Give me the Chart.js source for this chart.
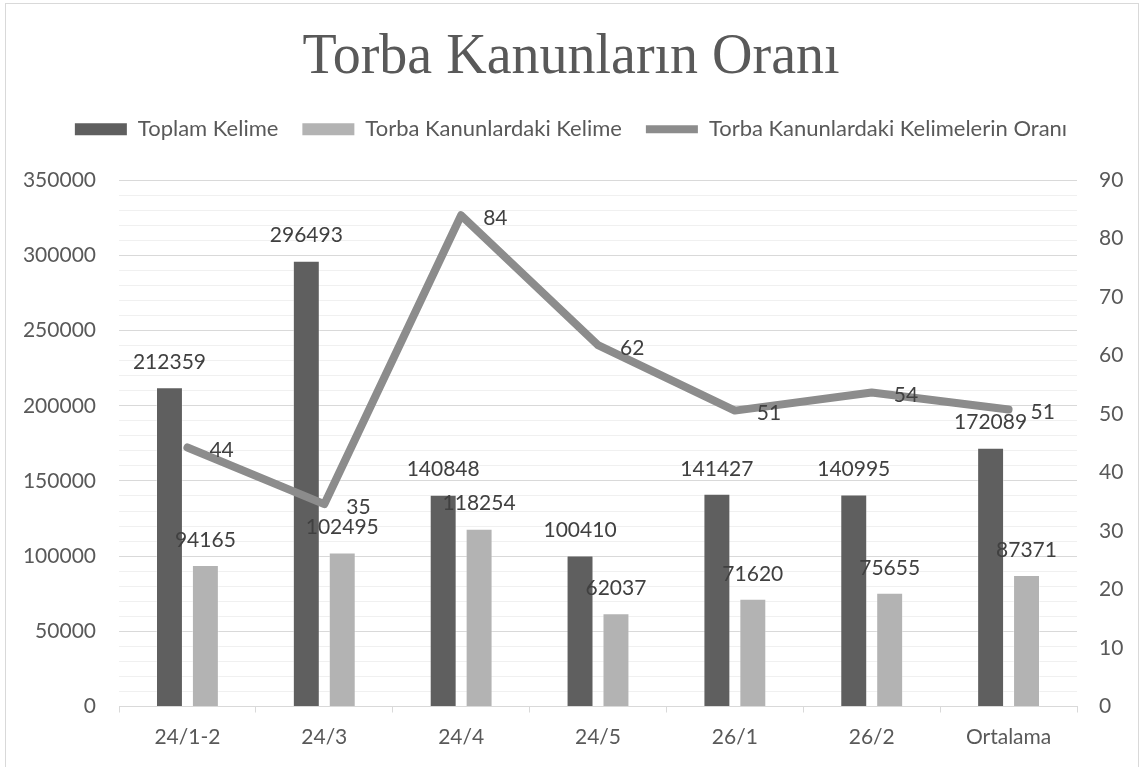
<!DOCTYPE html>
<html lang="tr">
<head>
<meta charset="UTF-8">
<title>Torba Kanunların Oranı</title>
<script src="https://cdn.jsdelivr.net/npm/chart.js"></script>
<style>
  html, body { margin: 0; padding: 0; background: #fff; }
  #wrap { position: relative; width: 1142px; height: 767px; overflow: hidden; }
  #frame { position: absolute; left: 5px; top: 3px; width: 1132px; height: 780px; border: 1px solid #d9d9d9; pointer-events: none; }
</style>
</head>
<body>
<div id="wrap">
  <canvas id="chart"></canvas>
  <div id="frame"></div>
</div>

<script>
// Data
const categories = ['24/1-2', '24/3', '24/4', '24/5', '26/1', '26/2', 'Ortalama'];
const totalWords = [212359, 296493, 140848, 100410, 141427, 140995, 172089];
const omnibusWords = [94165, 102495, 118254, 62037, 71620, 75655, 87371];
const omnibusRatio = [44.3, 34.6, 84.0, 61.8, 50.6, 53.7, 50.8];

Chart.defaults.font.family = 'Lato';
Chart.defaults.font.size = 21;
Chart.defaults.color = '#595959';

// value labels above bars / right of line points
const valueLabels = {
  id: 'valueLabels',
  afterDatasetsDraw(chart) {
    const ctx = chart.ctx;
    ctx.save();
    ctx.font = '21px Lato';
    ctx.fillStyle = '#404040';
    ctx.textBaseline = 'middle';
    chart.data.datasets.forEach((ds, i) => {
      const meta = chart.getDatasetMeta(i);
      meta.data.forEach((el, j) => {
        const v = ds.data[j];
        if (ds.type === 'line') {
          ctx.textAlign = 'left';
          ctx.fillText(Math.round(v), el.x + 22, el.y + 3);
        } else {
          ctx.textAlign = 'center';
          ctx.fillText(v, el.x, el.y - 25);
        }
      });
    });
    ctx.restore();
  }
};

// extra room under the legend
const legendGap = {
  id: 'legendGap',
  beforeInit(chart) {
    const fit = chart.legend.fit;
    chart.legend.fit = function () {
      fit.bind(chart.legend)();
      this.height += 30;
    };
  }
};

const ctx = document.getElementById('chart').getContext('2d');
new Chart(ctx, {
  type: 'bar',
  data: {
    labels: categories,
    datasets: [
      {
        label: 'Toplam Kelime',
        data: totalWords,
        backgroundColor: '#5f5f5f',
        borderColor: 'rgba(255,255,255,0.35)',
        borderWidth: 1,
        yAxisID: 'y',
        order: 1
      },
      {
        label: 'Torba Kanunlardaki Kelime',
        data: omnibusWords,
        backgroundColor: '#b3b3b3',
        borderColor: 'rgba(255,255,255,0.35)',
        borderWidth: 1,
        yAxisID: 'y',
        order: 1
      },
      {
        type: 'line',
        label: 'Torba Kanunlardaki Kelimelerin Oranı',
        data: omnibusRatio,
        borderColor: '#8c8c8c',
        backgroundColor: '#8c8c8c',
        borderWidth: 8,
        borderCapStyle: 'round',
        borderJoinStyle: 'round',
        pointRadius: 0,
        tension: 0,
        yAxisID: 'y1',
        order: 0
      }
    ]
  },
  options: {
    responsive: true,
    maintainAspectRatio: false,
    animation: false,
    categoryPercentage: 0.525,
    barPercentage: 0.75,
    layout: { padding: 0 },
    plugins: {
      title: {
        display: true,
        text: 'Torba Kanunların Oranı',
        color: '#595959',
        font: { family: 'Liberation Serif', size: 56, weight: 'normal' },
        padding: { top: 25, bottom: 2 }
      },
      legend: {
        labels: {
          usePointStyle: true,
          pointStyleWidth: 52,
          boxHeight: 12,
          padding: 24,
          color: '#595959',
          font: { size: 22 },
          generateLabels(chart) {
            const items = Chart.defaults.plugins.legend.labels.generateLabels(chart);
            items.sort((a, b) => a.datasetIndex - b.datasetIndex);
            items.forEach(it => {
              const isLine = it.datasetIndex === 2;
              it.pointStyle = isLine ? 'line' : 'rect';
              if (!isLine) { it.lineWidth = 0; }
            });
            return items;
          }
        }
      },
      tooltip: { enabled: false }
    },
    scales: {
      x: {
        grid: {
          offset: true,
          drawOnChartArea: false,
          drawTicks: true,
          tickLength: 6,
          color: '#d9d9d9'
        },
        border: { color: '#d9d9d9' },
        ticks: { padding: 12, color: '#595959' },
        afterFit(scale) { scale.height = 60.5; }
      },
      y: {
        position: 'left',
        min: 0,
        max: 350000,
        ticks: {
          stepSize: 10000,
          padding: 23,
          color: '#595959',
          autoSkip: false,
          callback: v => (v % 50000 === 0 ? v : '')
        },
        grid: {
          drawTicks: false,
          color: c => (c.tick.value % 50000 === 0 ? '#d9d9d9' : '#f0f0f0')
        },
        border: { display: false },
        afterFit(scale) { scale.width = 119; }
      },
      y1: {
        position: 'right',
        min: 0,
        max: 90,
        ticks: { stepSize: 10, padding: 22, color: '#595959' },
        grid: { display: false, drawTicks: false },
        border: { display: false },
        afterFit(scale) { scale.width = 65; }
      }
    }
  },
  plugins: [valueLabels, legendGap]
});
</script>
</body>
</html>
